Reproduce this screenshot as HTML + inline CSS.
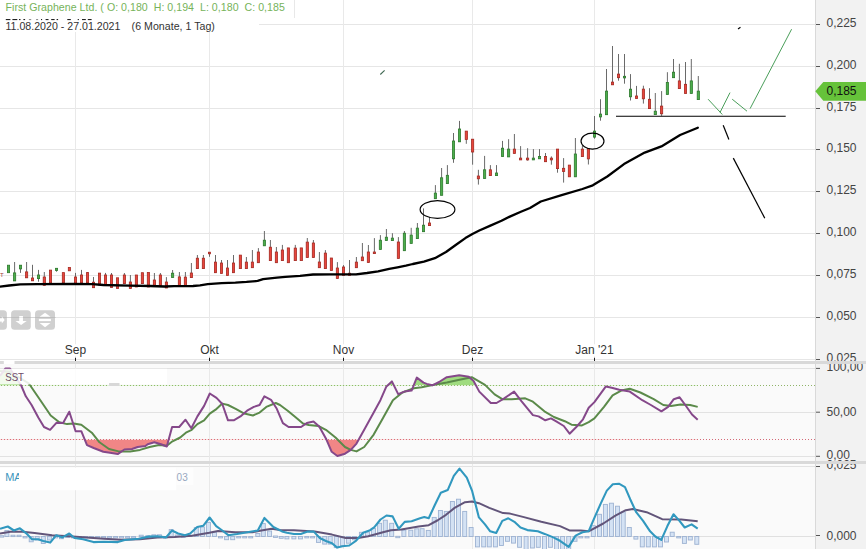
<!DOCTYPE html>
<html><head><meta charset="utf-8"><style>
html,body{margin:0;padding:0;background:#fff;width:866px;height:549px;overflow:hidden}
svg{position:absolute;left:0;top:0;display:block}
text{font-family:"Liberation Sans",sans-serif}
</style></head><body>
<svg width="866" height="549" viewBox="0 0 866 549">

<rect x="0" y="0" width="866" height="549" fill="#ffffff"/>
<rect x="0" y="364" width="816" height="97" fill="#fafafa"/>
<rect x="0" y="464.5" width="816" height="85" fill="#fafafa"/>
<rect x="816" y="0" width="50" height="549" fill="#f2f2f2"/>
<line x1="815.5" y1="0" x2="815.5" y2="549" stroke="#d9d9d9" stroke-width="1"/>
<line x1="0" y1="24.5" x2="815" y2="24.5" stroke="#e6e6e6" stroke-width="1"/>
<line x1="0" y1="66.5" x2="815" y2="66.5" stroke="#e6e6e6" stroke-width="1"/>
<line x1="0" y1="108.5" x2="815" y2="108.5" stroke="#e6e6e6" stroke-width="1"/>
<line x1="0" y1="149.5" x2="815" y2="149.5" stroke="#e6e6e6" stroke-width="1"/>
<line x1="0" y1="191.5" x2="815" y2="191.5" stroke="#e6e6e6" stroke-width="1"/>
<line x1="0" y1="233.5" x2="815" y2="233.5" stroke="#e6e6e6" stroke-width="1"/>
<line x1="0" y1="275.5" x2="815" y2="275.5" stroke="#e6e6e6" stroke-width="1"/>
<line x1="0" y1="317.5" x2="815" y2="317.5" stroke="#e6e6e6" stroke-width="1"/>
<line x1="0" y1="359.5" x2="815" y2="359.5" stroke="#e6e6e6" stroke-width="1"/>
<line x1="0" y1="368.5" x2="815" y2="368.5" stroke="#e2e2e2" stroke-width="1"/>
<line x1="0" y1="412.5" x2="815" y2="412.5" stroke="#e2e2e2" stroke-width="1"/>
<line x1="0" y1="456.5" x2="815" y2="456.5" stroke="#e2e2e2" stroke-width="1"/>
<line x1="0" y1="466.5" x2="815" y2="466.5" stroke="#e2e2e2" stroke-width="1"/>
<line x1="75.5" y1="0" x2="75.5" y2="549" stroke="#e9e9e9" stroke-width="1"/>
<line x1="209.5" y1="0" x2="209.5" y2="549" stroke="#e9e9e9" stroke-width="1"/>
<line x1="343.5" y1="0" x2="343.5" y2="549" stroke="#e9e9e9" stroke-width="1"/>
<line x1="472.5" y1="0" x2="472.5" y2="549" stroke="#e9e9e9" stroke-width="1"/>
<line x1="594.5" y1="0" x2="594.5" y2="549" stroke="#e9e9e9" stroke-width="1"/>
<line x1="0" y1="385.5" x2="815" y2="385.5" stroke="#8fb468" stroke-width="1" stroke-dasharray="1,2" stroke-dashoffset="2"/>
<line x1="0" y1="439.5" x2="815" y2="439.5" stroke="#d46a78" stroke-width="1" stroke-dasharray="1,2" stroke-dashoffset="2"/>
<line x1="0" y1="536.5" x2="815" y2="536.5" stroke="#e0e0e0" stroke-width="1"/>
<rect x="7.4" y="265.2" width="2.2" height="7.5" fill="#4cae4c" stroke="#2e7a2e" stroke-width="0.8"/>
<line x1="14.6" y1="262.0" x2="14.6" y2="280.9" stroke="#6a6a6a" stroke-width="1"/>
<rect x="13.5" y="272.9" width="2.2" height="8.0" fill="#4cae4c" stroke="#2e7a2e" stroke-width="0.8"/>
<line x1="20.5" y1="265.2" x2="20.5" y2="272.9" stroke="#6a6a6a" stroke-width="1"/>
<rect x="19.4" y="265.2" width="2.2" height="3.7" fill="#4cae4c" stroke="#2e7a2e" stroke-width="0.8"/>
<line x1="26.6" y1="262.0" x2="26.6" y2="277.8" stroke="#6a6a6a" stroke-width="1"/>
<rect x="25.5" y="271.9" width="2.2" height="5.9" fill="#e8453c" stroke="#a52a22" stroke-width="0.8"/>
<line x1="32.5" y1="264.8" x2="32.5" y2="280.8" stroke="#6a6a6a" stroke-width="1"/>
<rect x="31.4" y="278.0" width="2.2" height="2.8" fill="#e8453c" stroke="#a52a22" stroke-width="0.8"/>
<line x1="38.5" y1="269.9" x2="38.5" y2="281.7" stroke="#6a6a6a" stroke-width="1"/>
<rect x="37.4" y="275.0" width="2.2" height="3.6" fill="#4cae4c" stroke="#2e7a2e" stroke-width="0.8"/>
<line x1="44.3" y1="272.0" x2="44.3" y2="285.3" stroke="#6a6a6a" stroke-width="1"/>
<rect x="43.2" y="277.0" width="2.2" height="8.3" fill="#e8453c" stroke="#a52a22" stroke-width="0.8"/>
<rect x="49.4" y="270.1" width="2.2" height="12.7" fill="#e8453c" stroke="#a52a22" stroke-width="0.8"/>
<line x1="56.5" y1="268.3" x2="56.5" y2="271.7" stroke="#6a6a6a" stroke-width="1"/>
<rect x="55.4" y="268.3" width="2.2" height="2.2" fill="#4cae4c" stroke="#2e7a2e" stroke-width="0.8"/>
<rect x="62.3" y="272.6" width="2.2" height="10.2" fill="#e8453c" stroke="#a52a22" stroke-width="0.8"/>
<rect x="68.3" y="267.4" width="2.2" height="3.4" fill="#e8453c" stroke="#a52a22" stroke-width="0.8"/>
<line x1="75.5" y1="272.9" x2="75.5" y2="283.3" stroke="#6a6a6a" stroke-width="1"/>
<rect x="74.4" y="277.0" width="2.2" height="6.3" fill="#e8453c" stroke="#a52a22" stroke-width="0.8"/>
<line x1="81.5" y1="269.9" x2="81.5" y2="282.8" stroke="#6a6a6a" stroke-width="1"/>
<rect x="80.4" y="275.0" width="2.2" height="7.8" fill="#e8453c" stroke="#a52a22" stroke-width="0.8"/>
<line x1="87.5" y1="272.0" x2="87.5" y2="282.8" stroke="#6a6a6a" stroke-width="1"/>
<rect x="86.4" y="272.6" width="2.2" height="10.2" fill="#e8453c" stroke="#a52a22" stroke-width="0.8"/>
<line x1="93.5" y1="277.0" x2="93.5" y2="287.7" stroke="#6a6a6a" stroke-width="1"/>
<rect x="92.4" y="282.2" width="2.2" height="5.5" fill="#e8453c" stroke="#a52a22" stroke-width="0.8"/>
<rect x="98.4" y="273.1" width="2.2" height="11.9" fill="#e8453c" stroke="#a52a22" stroke-width="0.8"/>
<line x1="105.5" y1="272.9" x2="105.5" y2="284.6" stroke="#6a6a6a" stroke-width="1"/>
<rect x="104.4" y="275.0" width="2.2" height="9.6" fill="#e8453c" stroke="#a52a22" stroke-width="0.8"/>
<line x1="111.5" y1="273.0" x2="111.5" y2="287.5" stroke="#6a6a6a" stroke-width="1"/>
<rect x="110.4" y="275.0" width="2.2" height="12.5" fill="#e8453c" stroke="#a52a22" stroke-width="0.8"/>
<rect x="116.4" y="277.8" width="2.2" height="10.6" fill="#e8453c" stroke="#a52a22" stroke-width="0.8"/>
<line x1="124.4" y1="273.0" x2="124.4" y2="283.6" stroke="#6a6a6a" stroke-width="1"/>
<rect x="123.3" y="275.0" width="2.2" height="8.6" fill="#e8453c" stroke="#a52a22" stroke-width="0.8"/>
<line x1="130.4" y1="275.0" x2="130.4" y2="288.4" stroke="#6a6a6a" stroke-width="1"/>
<rect x="129.3" y="282.0" width="2.2" height="6.4" fill="#e8453c" stroke="#a52a22" stroke-width="0.8"/>
<rect x="135.3" y="275.0" width="2.2" height="12.0" fill="#e8453c" stroke="#a52a22" stroke-width="0.8"/>
<rect x="141.3" y="272.7" width="2.2" height="10.9" fill="#e8453c" stroke="#a52a22" stroke-width="0.8"/>
<rect x="147.3" y="272.5" width="2.2" height="14.5" fill="#e8453c" stroke="#a52a22" stroke-width="0.8"/>
<line x1="154.4" y1="273.0" x2="154.4" y2="285.6" stroke="#6a6a6a" stroke-width="1"/>
<rect x="153.3" y="280.0" width="2.2" height="5.6" fill="#e8453c" stroke="#a52a22" stroke-width="0.8"/>
<line x1="160.4" y1="273.0" x2="160.4" y2="285.6" stroke="#6a6a6a" stroke-width="1"/>
<rect x="159.3" y="275.0" width="2.2" height="10.6" fill="#e8453c" stroke="#a52a22" stroke-width="0.8"/>
<line x1="166.4" y1="277.1" x2="166.4" y2="288.0" stroke="#6a6a6a" stroke-width="1"/>
<rect x="165.3" y="282.0" width="2.2" height="6.0" fill="#e8453c" stroke="#a52a22" stroke-width="0.8"/>
<line x1="172.6" y1="270.0" x2="172.6" y2="277.5" stroke="#6a6a6a" stroke-width="1"/>
<rect x="171.5" y="273.2" width="2.2" height="4.3" fill="#4cae4c" stroke="#2e7a2e" stroke-width="0.8"/>
<line x1="179.4" y1="272.0" x2="179.4" y2="285.6" stroke="#6a6a6a" stroke-width="1"/>
<rect x="178.3" y="276.9" width="2.2" height="8.7" fill="#e8453c" stroke="#a52a22" stroke-width="0.8"/>
<line x1="185.4" y1="272.0" x2="185.4" y2="286.0" stroke="#6a6a6a" stroke-width="1"/>
<rect x="184.3" y="277.1" width="2.2" height="8.9" fill="#e8453c" stroke="#a52a22" stroke-width="0.8"/>
<line x1="191.4" y1="263.0" x2="191.4" y2="277.6" stroke="#6a6a6a" stroke-width="1"/>
<rect x="190.3" y="273.0" width="2.2" height="4.6" fill="#e8453c" stroke="#a52a22" stroke-width="0.8"/>
<line x1="197.4" y1="255.0" x2="197.4" y2="268.6" stroke="#6a6a6a" stroke-width="1"/>
<rect x="196.3" y="258.2" width="2.2" height="10.4" fill="#e8453c" stroke="#a52a22" stroke-width="0.8"/>
<line x1="203.4" y1="255.0" x2="203.4" y2="268.6" stroke="#6a6a6a" stroke-width="1"/>
<rect x="202.3" y="258.2" width="2.2" height="10.4" fill="#e8453c" stroke="#a52a22" stroke-width="0.8"/>
<line x1="209.5" y1="252.2" x2="209.5" y2="256.8" stroke="#6a6a6a" stroke-width="1"/>
<rect x="208.4" y="252.2" width="2.2" height="1.6" fill="#e8453c" stroke="#a52a22" stroke-width="0.8"/>
<line x1="215.5" y1="255.0" x2="215.5" y2="272.7" stroke="#6a6a6a" stroke-width="1"/>
<rect x="214.4" y="262.1" width="2.2" height="10.6" fill="#e8453c" stroke="#a52a22" stroke-width="0.8"/>
<line x1="221.5" y1="260.0" x2="221.5" y2="273.4" stroke="#6a6a6a" stroke-width="1"/>
<rect x="220.4" y="263.0" width="2.2" height="10.4" fill="#e8453c" stroke="#a52a22" stroke-width="0.8"/>
<line x1="227.5" y1="260.0" x2="227.5" y2="275.4" stroke="#6a6a6a" stroke-width="1"/>
<rect x="226.4" y="268.0" width="2.2" height="7.4" fill="#e8453c" stroke="#a52a22" stroke-width="0.8"/>
<line x1="233.5" y1="255.0" x2="233.5" y2="272.7" stroke="#6a6a6a" stroke-width="1"/>
<rect x="232.4" y="263.0" width="2.2" height="9.7" fill="#e8453c" stroke="#a52a22" stroke-width="0.8"/>
<rect x="239.3" y="255.1" width="2.2" height="13.5" fill="#e8453c" stroke="#a52a22" stroke-width="0.8"/>
<line x1="246.4" y1="257.0" x2="246.4" y2="268.6" stroke="#6a6a6a" stroke-width="1"/>
<rect x="245.3" y="262.1" width="2.2" height="6.5" fill="#e8453c" stroke="#a52a22" stroke-width="0.8"/>
<line x1="252.4" y1="250.0" x2="252.4" y2="267.7" stroke="#6a6a6a" stroke-width="1"/>
<rect x="251.3" y="262.1" width="2.2" height="5.6" fill="#e8453c" stroke="#a52a22" stroke-width="0.8"/>
<line x1="258.4" y1="248.1" x2="258.4" y2="262.7" stroke="#6a6a6a" stroke-width="1"/>
<rect x="257.3" y="252.0" width="2.2" height="10.7" fill="#e8453c" stroke="#a52a22" stroke-width="0.8"/>
<line x1="264.4" y1="231.0" x2="264.4" y2="245.8" stroke="#6a6a6a" stroke-width="1"/>
<rect x="263.3" y="240.2" width="2.2" height="5.6" fill="#4cae4c" stroke="#2e7a2e" stroke-width="0.8"/>
<line x1="270.4" y1="240.0" x2="270.4" y2="260.6" stroke="#6a6a6a" stroke-width="1"/>
<rect x="269.3" y="247.2" width="2.2" height="13.4" fill="#e8453c" stroke="#a52a22" stroke-width="0.8"/>
<line x1="276.4" y1="247.0" x2="276.4" y2="262.7" stroke="#6a6a6a" stroke-width="1"/>
<rect x="275.3" y="252.0" width="2.2" height="10.7" fill="#e8453c" stroke="#a52a22" stroke-width="0.8"/>
<line x1="282.4" y1="244.9" x2="282.4" y2="260.6" stroke="#6a6a6a" stroke-width="1"/>
<rect x="281.3" y="250.0" width="2.2" height="10.6" fill="#e8453c" stroke="#a52a22" stroke-width="0.8"/>
<rect x="287.3" y="247.9" width="2.2" height="14.8" fill="#e8453c" stroke="#a52a22" stroke-width="0.8"/>
<line x1="295.3" y1="244.9" x2="295.3" y2="260.6" stroke="#6a6a6a" stroke-width="1"/>
<rect x="294.2" y="248.1" width="2.2" height="12.5" fill="#e8453c" stroke="#a52a22" stroke-width="0.8"/>
<rect x="300.2" y="247.9" width="2.2" height="12.7" fill="#e8453c" stroke="#a52a22" stroke-width="0.8"/>
<line x1="307.3" y1="238.0" x2="307.3" y2="257.5" stroke="#6a6a6a" stroke-width="1"/>
<rect x="306.2" y="242.1" width="2.2" height="15.4" fill="#e8453c" stroke="#a52a22" stroke-width="0.8"/>
<line x1="313.4" y1="240.0" x2="313.4" y2="257.5" stroke="#6a6a6a" stroke-width="1"/>
<rect x="312.3" y="243.0" width="2.2" height="14.5" fill="#e8453c" stroke="#a52a22" stroke-width="0.8"/>
<line x1="319.4" y1="252.0" x2="319.4" y2="267.7" stroke="#6a6a6a" stroke-width="1"/>
<rect x="318.3" y="262.0" width="2.2" height="5.7" fill="#e8453c" stroke="#a52a22" stroke-width="0.8"/>
<line x1="325.4" y1="250.1" x2="325.4" y2="268.6" stroke="#6a6a6a" stroke-width="1"/>
<rect x="324.3" y="253.1" width="2.2" height="15.5" fill="#e8453c" stroke="#a52a22" stroke-width="0.8"/>
<rect x="330.3" y="258.0" width="2.2" height="12.5" fill="#e8453c" stroke="#a52a22" stroke-width="0.8"/>
<line x1="337.4" y1="262.1" x2="337.4" y2="278.5" stroke="#6a6a6a" stroke-width="1"/>
<rect x="336.3" y="268.0" width="2.2" height="10.5" fill="#e8453c" stroke="#a52a22" stroke-width="0.8"/>
<line x1="343.5" y1="265.1" x2="343.5" y2="275.3" stroke="#6a6a6a" stroke-width="1"/>
<rect x="342.4" y="267.0" width="2.2" height="8.3" fill="#e8453c" stroke="#a52a22" stroke-width="0.8"/>
<line x1="349.5" y1="260.0" x2="349.5" y2="275.3" stroke="#6a6a6a" stroke-width="1"/>
<rect x="348.4" y="273.2" width="2.2" height="2.1" fill="#e8453c" stroke="#a52a22" stroke-width="0.8"/>
<line x1="356.4" y1="257.0" x2="356.4" y2="267.7" stroke="#6a6a6a" stroke-width="1"/>
<rect x="355.3" y="262.1" width="2.2" height="5.6" fill="#e8453c" stroke="#a52a22" stroke-width="0.8"/>
<line x1="362.4" y1="243.0" x2="362.4" y2="260.7" stroke="#6a6a6a" stroke-width="1"/>
<rect x="361.3" y="257.0" width="2.2" height="3.7" fill="#e8453c" stroke="#a52a22" stroke-width="0.8"/>
<line x1="368.4" y1="245.0" x2="368.4" y2="262.5" stroke="#6a6a6a" stroke-width="1"/>
<rect x="367.3" y="252.0" width="2.2" height="10.5" fill="#e8453c" stroke="#a52a22" stroke-width="0.8"/>
<line x1="374.4" y1="238.1" x2="374.4" y2="253.6" stroke="#6a6a6a" stroke-width="1"/>
<rect x="373.3" y="252.0" width="2.2" height="1.6" fill="#e8453c" stroke="#a52a22" stroke-width="0.8"/>
<line x1="380.4" y1="235.1" x2="380.4" y2="249.4" stroke="#6a6a6a" stroke-width="1"/>
<rect x="379.3" y="240.2" width="2.2" height="9.2" fill="#4cae4c" stroke="#2e7a2e" stroke-width="0.8"/>
<line x1="386.4" y1="229.0" x2="386.4" y2="240.6" stroke="#6a6a6a" stroke-width="1"/>
<rect x="385.3" y="237.2" width="2.2" height="3.4" fill="#4cae4c" stroke="#2e7a2e" stroke-width="0.8"/>
<line x1="392.4" y1="233.2" x2="392.4" y2="240.6" stroke="#6a6a6a" stroke-width="1"/>
<rect x="391.3" y="238.1" width="2.2" height="2.5" fill="#4cae4c" stroke="#2e7a2e" stroke-width="0.8"/>
<line x1="398.4" y1="237.1" x2="398.4" y2="258.4" stroke="#6a6a6a" stroke-width="1"/>
<rect x="397.3" y="242.0" width="2.2" height="16.4" fill="#e8453c" stroke="#a52a22" stroke-width="0.8"/>
<line x1="404.4" y1="231.0" x2="404.4" y2="250.7" stroke="#6a6a6a" stroke-width="1"/>
<rect x="403.3" y="233.2" width="2.2" height="17.5" fill="#4cae4c" stroke="#2e7a2e" stroke-width="0.8"/>
<line x1="411.2" y1="227.8" x2="411.2" y2="243.4" stroke="#6a6a6a" stroke-width="1"/>
<rect x="410.1" y="235.1" width="2.2" height="8.3" fill="#4cae4c" stroke="#2e7a2e" stroke-width="0.8"/>
<line x1="417.4" y1="223.0" x2="417.4" y2="238.6" stroke="#6a6a6a" stroke-width="1"/>
<rect x="416.3" y="228.1" width="2.2" height="10.5" fill="#4cae4c" stroke="#2e7a2e" stroke-width="0.8"/>
<line x1="423.5" y1="208.4" x2="423.5" y2="231.7" stroke="#6a6a6a" stroke-width="1"/>
<rect x="422.4" y="225.2" width="2.2" height="6.5" fill="#4cae4c" stroke="#2e7a2e" stroke-width="0.8"/>
<line x1="429.5" y1="217.2" x2="429.5" y2="225.6" stroke="#6a6a6a" stroke-width="1"/>
<rect x="428.4" y="223.0" width="2.2" height="2.6" fill="#e8453c" stroke="#a52a22" stroke-width="0.8"/>
<line x1="435.4" y1="185.1" x2="435.4" y2="198.7" stroke="#6a6a6a" stroke-width="1"/>
<rect x="434.3" y="193.1" width="2.2" height="5.6" fill="#4cae4c" stroke="#2e7a2e" stroke-width="0.8"/>
<line x1="441.6" y1="168.0" x2="441.6" y2="195.3" stroke="#6a6a6a" stroke-width="1"/>
<rect x="440.5" y="177.8" width="2.2" height="17.5" fill="#4cae4c" stroke="#2e7a2e" stroke-width="0.8"/>
<line x1="447.4" y1="165.1" x2="447.4" y2="183.6" stroke="#6a6a6a" stroke-width="1"/>
<rect x="446.3" y="175.3" width="2.2" height="8.3" fill="#4cae4c" stroke="#2e7a2e" stroke-width="0.8"/>
<line x1="453.5" y1="133.0" x2="453.5" y2="162.8" stroke="#6a6a6a" stroke-width="1"/>
<rect x="452.4" y="141.0" width="2.2" height="17.8" fill="#4cae4c" stroke="#2e7a2e" stroke-width="0.8"/>
<line x1="459.5" y1="120.9" x2="459.5" y2="141.8" stroke="#6a6a6a" stroke-width="1"/>
<rect x="458.4" y="129.0" width="2.2" height="12.8" fill="#4cae4c" stroke="#2e7a2e" stroke-width="0.8"/>
<line x1="466.3" y1="131.1" x2="466.3" y2="143.8" stroke="#6a6a6a" stroke-width="1"/>
<rect x="465.2" y="131.1" width="2.2" height="8.3" fill="#e8453c" stroke="#a52a22" stroke-width="0.8"/>
<line x1="472.6" y1="139.2" x2="472.6" y2="164.7" stroke="#6a6a6a" stroke-width="1"/>
<rect x="471.5" y="139.2" width="2.2" height="12.8" fill="#e8453c" stroke="#a52a22" stroke-width="0.8"/>
<line x1="478.4" y1="169.8" x2="478.4" y2="184.6" stroke="#6a6a6a" stroke-width="1"/>
<rect x="477.3" y="176.0" width="2.2" height="2.8" fill="#e8453c" stroke="#a52a22" stroke-width="0.8"/>
<line x1="484.6" y1="155.9" x2="484.6" y2="178.5" stroke="#6a6a6a" stroke-width="1"/>
<rect x="483.5" y="169.8" width="2.2" height="8.7" fill="#4cae4c" stroke="#2e7a2e" stroke-width="0.8"/>
<line x1="490.4" y1="165.1" x2="490.4" y2="175.6" stroke="#6a6a6a" stroke-width="1"/>
<rect x="489.3" y="169.8" width="2.2" height="5.8" fill="#e8453c" stroke="#a52a22" stroke-width="0.8"/>
<line x1="496.5" y1="165.1" x2="496.5" y2="175.6" stroke="#6a6a6a" stroke-width="1"/>
<rect x="495.4" y="173.0" width="2.2" height="2.6" fill="#4cae4c" stroke="#2e7a2e" stroke-width="0.8"/>
<line x1="502.5" y1="140.9" x2="502.5" y2="156.6" stroke="#6a6a6a" stroke-width="1"/>
<rect x="501.4" y="148.2" width="2.2" height="8.4" fill="#4cae4c" stroke="#2e7a2e" stroke-width="0.8"/>
<line x1="508.6" y1="139.2" x2="508.6" y2="156.9" stroke="#6a6a6a" stroke-width="1"/>
<rect x="507.5" y="149.1" width="2.2" height="7.8" fill="#4cae4c" stroke="#2e7a2e" stroke-width="0.8"/>
<line x1="514.4" y1="134.0" x2="514.4" y2="153.4" stroke="#6a6a6a" stroke-width="1"/>
<rect x="513.3" y="149.1" width="2.2" height="4.3" fill="#e8453c" stroke="#a52a22" stroke-width="0.8"/>
<line x1="520.6" y1="146.1" x2="520.6" y2="159.9" stroke="#6a6a6a" stroke-width="1"/>
<rect x="519.5" y="158.1" width="2.2" height="1.8" fill="#e8453c" stroke="#a52a22" stroke-width="0.8"/>
<line x1="527.6" y1="148.2" x2="527.6" y2="160.7" stroke="#6a6a6a" stroke-width="1"/>
<rect x="526.5" y="158.1" width="2.2" height="1.8" fill="#e8453c" stroke="#a52a22" stroke-width="0.8"/>
<line x1="533.4" y1="149.1" x2="533.4" y2="159.9" stroke="#6a6a6a" stroke-width="1"/>
<rect x="532.3" y="158.1" width="2.2" height="1.8" fill="#4cae4c" stroke="#2e7a2e" stroke-width="0.8"/>
<line x1="539.5" y1="149.1" x2="539.5" y2="158.8" stroke="#6a6a6a" stroke-width="1"/>
<rect x="538.4" y="156.4" width="2.2" height="2.4" fill="#4cae4c" stroke="#2e7a2e" stroke-width="0.8"/>
<line x1="545.5" y1="153.0" x2="545.5" y2="161.7" stroke="#6a6a6a" stroke-width="1"/>
<rect x="544.4" y="156.4" width="2.2" height="5.3" fill="#e8453c" stroke="#a52a22" stroke-width="0.8"/>
<line x1="551.4" y1="156.4" x2="551.4" y2="164.7" stroke="#6a6a6a" stroke-width="1"/>
<rect x="550.3" y="158.1" width="2.2" height="1.8" fill="#e8453c" stroke="#a52a22" stroke-width="0.8"/>
<line x1="557.5" y1="149.1" x2="557.5" y2="172.7" stroke="#6a6a6a" stroke-width="1"/>
<rect x="556.4" y="149.1" width="2.2" height="19.5" fill="#e8453c" stroke="#a52a22" stroke-width="0.8"/>
<line x1="563.6" y1="158.1" x2="563.6" y2="182.6" stroke="#6a6a6a" stroke-width="1"/>
<rect x="562.5" y="168.3" width="2.2" height="3.2" fill="#e8453c" stroke="#a52a22" stroke-width="0.8"/>
<rect x="568.3" y="165.1" width="2.2" height="11.7" fill="#e8453c" stroke="#a52a22" stroke-width="0.8"/>
<line x1="575.4" y1="138.0" x2="575.4" y2="176.8" stroke="#6a6a6a" stroke-width="1"/>
<rect x="574.3" y="154.0" width="2.2" height="22.8" fill="#4cae4c" stroke="#2e7a2e" stroke-width="0.8"/>
<line x1="582.4" y1="145.3" x2="582.4" y2="156.6" stroke="#6a6a6a" stroke-width="1"/>
<rect x="581.3" y="149.1" width="2.2" height="7.5" fill="#e8453c" stroke="#a52a22" stroke-width="0.8"/>
<line x1="588.4" y1="148.6" x2="588.4" y2="164.5" stroke="#6a6a6a" stroke-width="1"/>
<rect x="587.3" y="148.6" width="2.2" height="10.3" fill="#e8453c" stroke="#a52a22" stroke-width="0.8"/>
<line x1="594.5" y1="116.0" x2="594.5" y2="138.7" stroke="#6a6a6a" stroke-width="1"/>
<rect x="593.4" y="131.1" width="2.2" height="6.0" fill="#4cae4c" stroke="#2e7a2e" stroke-width="0.8"/>
<line x1="600.5" y1="99.2" x2="600.5" y2="120.7" stroke="#6a6a6a" stroke-width="1"/>
<rect x="599.4" y="114.1" width="2.2" height="2.8" fill="#4cae4c" stroke="#2e7a2e" stroke-width="0.8"/>
<line x1="606.5" y1="69.0" x2="606.5" y2="114.7" stroke="#6a6a6a" stroke-width="1"/>
<rect x="605.4" y="91.1" width="2.2" height="23.6" fill="#4cae4c" stroke="#2e7a2e" stroke-width="0.8"/>
<line x1="612.5" y1="46.0" x2="612.5" y2="84.8" stroke="#6a6a6a" stroke-width="1"/>
<rect x="611.4" y="82.1" width="2.2" height="2.7" fill="#e8453c" stroke="#a52a22" stroke-width="0.8"/>
<line x1="618.5" y1="54.0" x2="618.5" y2="80.7" stroke="#6a6a6a" stroke-width="1"/>
<rect x="617.4" y="74.1" width="2.2" height="3.6" fill="#e8453c" stroke="#a52a22" stroke-width="0.8"/>
<line x1="624.5" y1="54.0" x2="624.5" y2="83.7" stroke="#6a6a6a" stroke-width="1"/>
<rect x="623.4" y="76.3" width="2.2" height="1.6" fill="#4cae4c" stroke="#2e7a2e" stroke-width="0.8"/>
<line x1="630.5" y1="74.1" x2="630.5" y2="100.5" stroke="#6a6a6a" stroke-width="1"/>
<rect x="629.4" y="89.2" width="2.2" height="7.6" fill="#4cae4c" stroke="#2e7a2e" stroke-width="0.8"/>
<line x1="636.5" y1="85.9" x2="636.5" y2="98.5" stroke="#6a6a6a" stroke-width="1"/>
<rect x="635.4" y="96.0" width="2.2" height="2.5" fill="#e8453c" stroke="#a52a22" stroke-width="0.8"/>
<line x1="643.4" y1="85.7" x2="643.4" y2="103.6" stroke="#6a6a6a" stroke-width="1"/>
<rect x="642.3" y="89.1" width="2.2" height="9.7" fill="#e8453c" stroke="#a52a22" stroke-width="0.8"/>
<line x1="649.5" y1="88.2" x2="649.5" y2="108.6" stroke="#6a6a6a" stroke-width="1"/>
<rect x="648.4" y="99.3" width="2.2" height="9.3" fill="#e8453c" stroke="#a52a22" stroke-width="0.8"/>
<line x1="655.3" y1="93.0" x2="655.3" y2="114.6" stroke="#6a6a6a" stroke-width="1"/>
<rect x="654.2" y="111.2" width="2.2" height="3.4" fill="#4cae4c" stroke="#2e7a2e" stroke-width="0.8"/>
<line x1="661.6" y1="91.1" x2="661.6" y2="115.9" stroke="#6a6a6a" stroke-width="1"/>
<rect x="660.5" y="106.1" width="2.2" height="7.7" fill="#e8453c" stroke="#a52a22" stroke-width="0.8"/>
<line x1="667.4" y1="72.2" x2="667.4" y2="94.5" stroke="#6a6a6a" stroke-width="1"/>
<rect x="666.3" y="82.4" width="2.2" height="12.1" fill="#4cae4c" stroke="#2e7a2e" stroke-width="0.8"/>
<line x1="673.5" y1="59.0" x2="673.5" y2="77.7" stroke="#6a6a6a" stroke-width="1"/>
<rect x="672.4" y="72.2" width="2.2" height="5.5" fill="#4cae4c" stroke="#2e7a2e" stroke-width="0.8"/>
<line x1="679.4" y1="63.8" x2="679.4" y2="88.6" stroke="#6a6a6a" stroke-width="1"/>
<rect x="678.3" y="80.9" width="2.2" height="7.7" fill="#e8453c" stroke="#a52a22" stroke-width="0.8"/>
<line x1="685.5" y1="62.0" x2="685.5" y2="93.4" stroke="#6a6a6a" stroke-width="1"/>
<rect x="684.4" y="84.3" width="2.2" height="9.1" fill="#e8453c" stroke="#a52a22" stroke-width="0.8"/>
<line x1="691.3" y1="59.0" x2="691.3" y2="93.4" stroke="#6a6a6a" stroke-width="1"/>
<rect x="690.2" y="80.9" width="2.2" height="12.5" fill="#4cae4c" stroke="#2e7a2e" stroke-width="0.8"/>
<line x1="698.3" y1="76.0" x2="698.3" y2="99.6" stroke="#6a6a6a" stroke-width="1"/>
<rect x="697.2" y="91.1" width="2.2" height="8.5" fill="#4cae4c" stroke="#2e7a2e" stroke-width="0.8"/>
<polyline points="0.0,286.6 9.2,285.5 20.3,284.4 37.0,284.1 74.0,284.0 92.4,284.1 103.5,285.0 129.4,285.7 150.0,286.0 164.5,286.5 174.2,286.1 193.0,286.0 200.0,285.3 207.7,284.2 221.6,283.1 235.4,282.6 246.5,281.9 257.6,280.9 263.1,279.2 277.0,277.7 285.3,276.8 300.0,275.9 313.0,274.5 329.6,274.4 356.0,274.4 367.0,273.0 378.1,271.3 389.2,268.8 397.5,267.3 405.9,265.6 412.8,264.0 423.9,261.7 434.9,258.2 446.0,252.0 455.7,245.0 465.4,238.1 472.4,234.0 479.3,230.5 490.4,225.6 501.5,220.8 509.8,216.6 520.9,211.8 530.0,208.0 540.8,201.5 561.6,195.2 582.4,189.0 592.8,185.3 607.3,176.5 624.0,164.1 644.7,152.6 661.4,146.4 680.1,135.0 697.8,127.7" fill="none" stroke="#000" stroke-width="2.3" stroke-linejoin="round" stroke-linecap="round"/>
<ellipse cx="437.5" cy="209.5" rx="17.4" ry="8.9" fill="none" stroke="#000" stroke-width="1.15"/>
<ellipse cx="592.5" cy="141.1" rx="11.5" ry="8" fill="none" stroke="#000" stroke-width="1.15"/>
<line x1="616" y1="116.3" x2="785.7" y2="116.3" stroke="#000" stroke-width="1.1"/>
<line x1="723.2" y1="125.3" x2="728.9" y2="139.5" stroke="#000" stroke-width="1.2"/>
<line x1="733.3" y1="158.1" x2="764.8" y2="218.2" stroke="#000" stroke-width="1.2"/>
<line x1="738" y1="29" x2="740.5" y2="27.3" stroke="#000" stroke-width="1.1"/>
<line x1="380.3" y1="74.5" x2="384.6" y2="70.4" stroke="#3d6650" stroke-width="1.1"/>
<line x1="708.1" y1="99.2" x2="722.3" y2="114.5" stroke="#4a9e5a" stroke-width="1"/>
<line x1="720.1" y1="112.3" x2="730" y2="92.6" stroke="#4a9e5a" stroke-width="1"/>
<line x1="732.2" y1="99.2" x2="747" y2="111.2" stroke="#4a9e5a" stroke-width="1"/>
<line x1="750.1" y1="108.6" x2="791.6" y2="29.2" stroke="#4a9e5a" stroke-width="1"/>
<rect x="0" y="0" width="294" height="18" fill="#fff"/>
<line x1="294.5" y1="0" x2="294.5" y2="18" stroke="#e8e8e8" stroke-width="1"/>
<rect x="0" y="18" width="259" height="14" fill="#fff"/>
<text x="5.5" y="10.5" font-size="10.6" fill="#76b35a" textLength="279.3" lengthAdjust="spacing">First Graphene Ltd. ( O: 0,180&#160; H: 0,194&#160; L: 0,180&#160; C: 0,185</text>
<g fill="#222"><rect x="5.8" y="19" width="4.6" height="1.1" fill-opacity="1"/><rect x="12.4" y="19" width="4.9" height="1.1" fill-opacity="1"/><rect x="19" y="19" width="1.5" height="1.1" fill-opacity="1"/><rect x="23.4" y="19" width="1.7" height="1.1" fill-opacity="1"/><rect x="28.9" y="19" width="2.3" height="1.1" fill-opacity="0.5"/><rect x="36.1" y="19" width="2.0" height="1.1" fill-opacity="0.5"/><rect x="41" y="19" width="1.1" height="1.1" fill-opacity="1"/><rect x="45.6" y="19" width="2.9" height="1.1" fill-opacity="1"/><rect x="51.2" y="19" width="3.4" height="1.1" fill-opacity="1"/><rect x="56.6" y="19" width="1.5" height="1.1" fill-opacity="1"/><rect x="67.3" y="19" width="3.5" height="1.1" fill-opacity="1"/><rect x="77.7" y="19" width="1.2" height="1.1" fill-opacity="1"/><rect x="82" y="19" width="3.8" height="1.1" fill-opacity="1"/><rect x="87.8" y="19" width="3.8" height="1.1" fill-opacity="1"/></g>
<text x="5.5" y="29.9" font-size="10.6" fill="#333" textLength="114.9" lengthAdjust="spacing">11.08.2020 - 27.01.2021</text>
<text x="131.6" y="29.9" font-size="10.6" fill="#333" textLength="83.3" lengthAdjust="spacing">(6 Monate, 1 Tag)</text>
<g opacity="0.92"><g fill="#cdcdcd"><rect x="-14" y="310.2" width="20.9" height="19.6" rx="3.5"/><rect x="11.1" y="310.2" width="19.7" height="19.6" rx="3.5"/><rect x="35" y="310.2" width="20" height="19.6" rx="3.5"/></g><g fill="#fff"><rect x="-2" y="318.3" width="4.2" height="3.3"/><polygon points="1.8,316.2 4.6,319.9 1.8,323.5"/><rect x="19.2" y="316" width="3.75" height="5.2"/><polygon points="15.5,321.1 26.7,321.1 21.1,324.9"/><polygon points="39.6,316.7 50.5,316.7 45.05,312.7"/><rect x="38.9" y="318.9" width="12" height="2.2"/><polygon points="39.6,323.1 50.5,323.1 45.05,327.3"/></g></g>
<line x1="0" y1="317.5" x2="56" y2="317.5" stroke="#000" stroke-opacity="0.07" stroke-width="1"/>
<rect x="63.8" y="344.3" width="23.4" height="12" fill="#fff"/>
<text x="75.5" y="353.7" font-size="12" fill="#333" text-anchor="middle">Sep</text>
<line x1="75.5" y1="357.8" x2="75.5" y2="361" stroke="#222" stroke-width="1"/>
<rect x="199.6" y="344.3" width="19.8" height="12" fill="#fff"/>
<text x="209.5" y="353.7" font-size="12" fill="#333" text-anchor="middle">Okt</text>
<line x1="209.5" y1="357.8" x2="209.5" y2="361" stroke="#222" stroke-width="1"/>
<rect x="332.1" y="344.3" width="22.8" height="12" fill="#fff"/>
<text x="343.5" y="353.7" font-size="12" fill="#333" text-anchor="middle">Nov</text>
<line x1="343.5" y1="357.8" x2="343.5" y2="361" stroke="#222" stroke-width="1"/>
<rect x="461.0" y="344.3" width="23.0" height="12" fill="#fff"/>
<text x="472.5" y="353.7" font-size="12" fill="#333" text-anchor="middle">Dez</text>
<line x1="472.5" y1="357.8" x2="472.5" y2="361" stroke="#222" stroke-width="1"/>
<rect x="574.4" y="344.3" width="40.2" height="12" fill="#fff"/>
<text x="594.5" y="353.7" font-size="12" fill="#333" text-anchor="middle">Jan '21</text>
<line x1="594.5" y1="357.8" x2="594.5" y2="361" stroke="#222" stroke-width="1"/>
<line x1="816" y1="24.5" x2="820" y2="24.5" stroke="#555" stroke-width="1"/>
<text x="826.5" y="27.0" font-size="12" fill="#444">0,225</text>
<line x1="816" y1="66.5" x2="820" y2="66.5" stroke="#555" stroke-width="1"/>
<text x="826.5" y="69.0" font-size="12" fill="#444">0,200</text>
<line x1="816" y1="108.5" x2="820" y2="108.5" stroke="#555" stroke-width="1"/>
<text x="826.5" y="111.0" font-size="12" fill="#444">0,175</text>
<line x1="816" y1="149.5" x2="820" y2="149.5" stroke="#555" stroke-width="1"/>
<text x="826.5" y="152.0" font-size="12" fill="#444">0,150</text>
<line x1="816" y1="191.5" x2="820" y2="191.5" stroke="#555" stroke-width="1"/>
<text x="826.5" y="194.0" font-size="12" fill="#444">0,125</text>
<line x1="816" y1="233.5" x2="820" y2="233.5" stroke="#555" stroke-width="1"/>
<text x="826.5" y="236.0" font-size="12" fill="#444">0,100</text>
<line x1="816" y1="275.5" x2="820" y2="275.5" stroke="#555" stroke-width="1"/>
<text x="826.5" y="278.0" font-size="12" fill="#444">0,075</text>
<line x1="816" y1="317.5" x2="820" y2="317.5" stroke="#555" stroke-width="1"/>
<text x="826.5" y="320.0" font-size="12" fill="#444">0,050</text>
<line x1="816" y1="359.5" x2="820" y2="359.5" stroke="#555" stroke-width="1"/>
<text x="826.5" y="362.0" font-size="12" fill="#444">0,025</text>
<polygon points="815.3,91.3 823.3,82 866,82 866,100.7 823.3,100.7" fill="#66c23a"/>
<text x="826.5" y="95" font-size="12" fill="#111">0,185</text>
<rect x="0" y="361" width="866" height="3" fill="#d9d9d9"/>
<rect x="3.8" y="361" width="10.7" height="3" fill="#fff"/>
<rect x="0" y="461" width="866" height="3" fill="#d9d9d9"/>
<defs><clipPath id="sstc"><rect x="0" y="364" width="815" height="97"/></clipPath><clipPath id="above80"><rect x="0" y="360" width="815" height="25.5"/></clipPath><clipPath id="below20"><rect x="0" y="439.4" width="815" height="22"/></clipPath><clipPath id="macdc"><rect x="0" y="464.5" width="815" height="85"/></clipPath></defs>
<g clip-path="url(#above80)"><polygon points="0,385.5 0.0,376.0 5.5,368.4 10.0,368.4 14.0,375.0 21.0,385.0 25.8,396.3 31.6,405.0 38.3,417.4 44.0,427.0 50.1,429.8 56.4,422.8 63.1,423.1 69.3,411.7 75.6,431.2 81.3,431.2 87.0,445.1 93.7,448.0 103.3,451.8 110.0,452.8 117.7,454.1 124.4,449.5 132.0,449.0 137.7,447.0 145.4,446.1 147.7,444.2 154.3,442.3 161.0,444.2 166.8,446.5 172.1,427.0 179.2,427.0 185.5,419.7 191.3,428.3 197.4,416.4 204.1,405.9 209.8,393.5 216.5,397.9 222.3,404.0 228.0,420.3 233.7,420.3 240.4,416.4 247.1,410.7 253.8,406.9 259.6,405.0 264.4,396.3 271.0,399.8 276.8,408.8 280.0,416.4 282.9,423.1 288.6,427.0 301.0,427.0 306.8,423.1 313.5,421.6 319.2,426.6 325.9,438.4 331.7,451.8 337.4,456.0 345.0,453.7 350.8,449.9 356.5,443.6 364.2,429.8 373.7,412.6 380.4,400.2 386.2,386.8 391.9,381.4 398.2,394.1 404.4,391.6 411.6,390.6 416.8,377.6 423.5,382.6 426.7,383.9 432.4,385.3 439.1,382.0 446.8,377.2 459.2,375.3 468.8,376.8 473.6,381.0 479.3,391.6 490.8,403.0 496.5,403.0 504.2,398.3 514.1,391.6 521.4,401.1 532.9,415.1 538.6,416.4 545.3,420.3 551.0,418.4 555.8,421.2 563.8,426.0 569.6,433.7 576.3,427.0 583.0,419.3 588.7,407.8 594.4,402.1 605.9,386.4 611.7,387.7 619.3,389.7 629.8,391.6 642.3,400.2 650.9,405.0 661.4,411.3 668.1,406.9 673.8,399.2 679.6,397.3 685.3,405.0 692.0,414.5 697.7,419.7 697.7,385.5" fill="#8fd66a" fill-opacity="0.85"/></g>
<g clip-path="url(#below20)"><polygon points="0,439.4 0.0,376.0 5.5,368.4 10.0,368.4 14.0,375.0 21.0,385.0 25.8,396.3 31.6,405.0 38.3,417.4 44.0,427.0 50.1,429.8 56.4,422.8 63.1,423.1 69.3,411.7 75.6,431.2 81.3,431.2 87.0,445.1 93.7,448.0 103.3,451.8 110.0,452.8 117.7,454.1 124.4,449.5 132.0,449.0 137.7,447.0 145.4,446.1 147.7,444.2 154.3,442.3 161.0,444.2 166.8,446.5 172.1,427.0 179.2,427.0 185.5,419.7 191.3,428.3 197.4,416.4 204.1,405.9 209.8,393.5 216.5,397.9 222.3,404.0 228.0,420.3 233.7,420.3 240.4,416.4 247.1,410.7 253.8,406.9 259.6,405.0 264.4,396.3 271.0,399.8 276.8,408.8 280.0,416.4 282.9,423.1 288.6,427.0 301.0,427.0 306.8,423.1 313.5,421.6 319.2,426.6 325.9,438.4 331.7,451.8 337.4,456.0 345.0,453.7 350.8,449.9 356.5,443.6 364.2,429.8 373.7,412.6 380.4,400.2 386.2,386.8 391.9,381.4 398.2,394.1 404.4,391.6 411.6,390.6 416.8,377.6 423.5,382.6 426.7,383.9 432.4,385.3 439.1,382.0 446.8,377.2 459.2,375.3 468.8,376.8 473.6,381.0 479.3,391.6 490.8,403.0 496.5,403.0 504.2,398.3 514.1,391.6 521.4,401.1 532.9,415.1 538.6,416.4 545.3,420.3 551.0,418.4 555.8,421.2 563.8,426.0 569.6,433.7 576.3,427.0 583.0,419.3 588.7,407.8 594.4,402.1 605.9,386.4 611.7,387.7 619.3,389.7 629.8,391.6 642.3,400.2 650.9,405.0 661.4,411.3 668.1,406.9 673.8,399.2 679.6,397.3 685.3,405.0 692.0,414.5 697.7,419.7 697.7,439.4" fill="#f08080" fill-opacity="0.95"/></g>
<g clip-path="url(#sstc)"><polyline points="0.0,371.0 10.0,372.0 20.0,378.0 28.7,383.3 38.3,397.3 50.7,415.5 59.3,422.2 67.0,424.1 73.7,423.5 81.3,424.7 91.8,432.7 99.5,442.3 109.0,449.0 118.6,451.4 130.1,451.4 140.0,449.9 149.6,447.0 159.1,445.1 166.8,445.7 172.5,441.3 180.2,437.5 185.9,432.7 191.7,429.8 197.4,424.1 204.1,420.3 209.8,413.6 215.6,409.7 222.3,403.6 228.0,405.0 235.7,408.8 244.3,413.6 252.9,415.5 259.6,412.6 266.3,406.9 275.8,403.0 280.0,405.0 287.7,410.7 295.3,417.0 303.0,423.5 308.7,425.0 318.3,426.0 325.9,429.8 335.5,437.5 345.0,447.0 350.8,449.9 356.5,451.4 364.2,447.0 373.7,434.6 383.3,417.4 392.9,400.2 402.4,392.5 413.9,388.3 421.6,387.2 431.5,385.3 446.8,382.6 458.3,380.1 471.7,377.2 485.0,384.9 494.6,394.4 502.3,399.2 511.8,399.2 525.2,398.3 532.9,401.7 544.4,411.3 553.9,417.0 564.8,421.2 571.5,424.7 582.0,425.4 588.7,422.2 594.4,418.4 604.0,406.9 612.6,395.4 621.2,390.6 629.8,388.7 640.4,392.5 653.7,399.2 663.3,405.0 671.0,405.9 680.5,404.4 690.1,405.0 697.7,406.9" fill="none" stroke="#5b8a4a" stroke-width="2" stroke-linejoin="round"/>
<polyline points="0.0,376.0 5.5,368.4 10.0,368.4 14.0,375.0 21.0,385.0 25.8,396.3 31.6,405.0 38.3,417.4 44.0,427.0 50.1,429.8 56.4,422.8 63.1,423.1 69.3,411.7 75.6,431.2 81.3,431.2 87.0,445.1 93.7,448.0 103.3,451.8 110.0,452.8 117.7,454.1 124.4,449.5 132.0,449.0 137.7,447.0 145.4,446.1 147.7,444.2 154.3,442.3 161.0,444.2 166.8,446.5 172.1,427.0 179.2,427.0 185.5,419.7 191.3,428.3 197.4,416.4 204.1,405.9 209.8,393.5 216.5,397.9 222.3,404.0 228.0,420.3 233.7,420.3 240.4,416.4 247.1,410.7 253.8,406.9 259.6,405.0 264.4,396.3 271.0,399.8 276.8,408.8 280.0,416.4 282.9,423.1 288.6,427.0 301.0,427.0 306.8,423.1 313.5,421.6 319.2,426.6 325.9,438.4 331.7,451.8 337.4,456.0 345.0,453.7 350.8,449.9 356.5,443.6 364.2,429.8 373.7,412.6 380.4,400.2 386.2,386.8 391.9,381.4 398.2,394.1 404.4,391.6 411.6,390.6 416.8,377.6 423.5,382.6 426.7,383.9 432.4,385.3 439.1,382.0 446.8,377.2 459.2,375.3 468.8,376.8 473.6,381.0 479.3,391.6 490.8,403.0 496.5,403.0 504.2,398.3 514.1,391.6 521.4,401.1 532.9,415.1 538.6,416.4 545.3,420.3 551.0,418.4 555.8,421.2 563.8,426.0 569.6,433.7 576.3,427.0 583.0,419.3 588.7,407.8 594.4,402.1 605.9,386.4 611.7,387.7 619.3,389.7 629.8,391.6 642.3,400.2 650.9,405.0 661.4,411.3 668.1,406.9 673.8,399.2 679.6,397.3 685.3,405.0 692.0,414.5 697.7,419.7" fill="none" stroke="#85488a" stroke-width="2" stroke-linejoin="round"/></g>
<rect x="0" y="368.8" width="167" height="15.6" fill="#fff" fill-opacity="0.86"/>
<text x="5.2" y="380.9" font-size="11" fill="#6e4d69" textLength="18.8" lengthAdjust="spacingAndGlyphs">SST</text>
<rect x="109" y="383" width="10.5" height="3" fill="#d8d8d8"/>
<text x="0" y="276.5" font-size="6" fill="#a04040">T</text>
<line x1="816" y1="368.4" x2="820" y2="368.4" stroke="#555" stroke-width="1"/>
<text x="826.5" y="370.6" font-size="12" fill="#444">100,00</text>
<line x1="816" y1="412.2" x2="820" y2="412.2" stroke="#555" stroke-width="1"/>
<text x="826.5" y="415.7" font-size="12" fill="#444">50,00</text>
<line x1="816" y1="456.3" x2="820" y2="456.3" stroke="#555" stroke-width="1"/>
<text x="826.5" y="459.2" font-size="12" fill="#444">0,00</text>
<g clip-path="url(#macdc)">
<rect x="-0.3" y="535.7" width="4" height="1.4" fill="#d4e2f4" stroke="#9db2d2" stroke-width="0.9"/>
<rect x="4.9" y="530.5" width="4" height="6.0" fill="#d4e2f4" stroke="#9db2d2" stroke-width="0.9"/>
<rect x="11.0" y="535.2" width="4" height="1.4" fill="#d4e2f4" stroke="#9db2d2" stroke-width="0.9"/>
<rect x="17.0" y="535.2" width="4" height="1.4" fill="#d4e2f4" stroke="#9db2d2" stroke-width="0.9"/>
<rect x="23.1" y="536.5" width="4" height="1.4" fill="#d4e2f4" stroke="#9db2d2" stroke-width="0.9"/>
<rect x="29.2" y="536.5" width="4" height="5.3" fill="#d4e2f4" stroke="#9db2d2" stroke-width="0.9"/>
<rect x="35.2" y="536.5" width="4" height="3.5" fill="#d4e2f4" stroke="#9db2d2" stroke-width="0.9"/>
<rect x="41.3" y="536.5" width="4" height="7.0" fill="#d4e2f4" stroke="#9db2d2" stroke-width="0.9"/>
<rect x="47.4" y="536.5" width="4" height="3.5" fill="#d4e2f4" stroke="#9db2d2" stroke-width="0.9"/>
<rect x="53.5" y="536.5" width="4" height="1.4" fill="#d4e2f4" stroke="#9db2d2" stroke-width="0.9"/>
<rect x="59.5" y="536.5" width="4" height="2.2" fill="#d4e2f4" stroke="#9db2d2" stroke-width="0.9"/>
<rect x="65.5" y="536.0" width="4" height="1.4" fill="#d4e2f4" stroke="#9db2d2" stroke-width="0.9"/>
<rect x="71.6" y="536.5" width="4" height="1.4" fill="#d4e2f4" stroke="#9db2d2" stroke-width="0.9"/>
<rect x="77.6" y="536.5" width="4" height="1.4" fill="#d4e2f4" stroke="#9db2d2" stroke-width="0.9"/>
<rect x="83.6" y="536.5" width="4" height="1.4" fill="#d4e2f4" stroke="#9db2d2" stroke-width="0.9"/>
<rect x="89.6" y="536.5" width="4" height="1.4" fill="#d4e2f4" stroke="#9db2d2" stroke-width="0.9"/>
<rect x="95.6" y="536.5" width="4" height="1.4" fill="#d4e2f4" stroke="#9db2d2" stroke-width="0.9"/>
<rect x="101.6" y="536.5" width="4" height="1.4" fill="#d4e2f4" stroke="#9db2d2" stroke-width="0.9"/>
<rect x="107.6" y="536.5" width="4" height="1.4" fill="#d4e2f4" stroke="#9db2d2" stroke-width="0.9"/>
<rect x="113.6" y="536.5" width="4" height="1.4" fill="#d4e2f4" stroke="#9db2d2" stroke-width="0.9"/>
<rect x="119.6" y="536.5" width="4" height="1.4" fill="#d4e2f4" stroke="#9db2d2" stroke-width="0.9"/>
<rect x="125.6" y="536.5" width="4" height="1.4" fill="#d4e2f4" stroke="#9db2d2" stroke-width="0.9"/>
<rect x="131.6" y="536.5" width="4" height="1.4" fill="#d4e2f4" stroke="#9db2d2" stroke-width="0.9"/>
<rect x="139.2" y="535.2" width="4" height="1.4" fill="#d4e2f4" stroke="#9db2d2" stroke-width="0.9"/>
<rect x="145.8" y="535.7" width="4" height="1.4" fill="#d4e2f4" stroke="#9db2d2" stroke-width="0.9"/>
<rect x="151.9" y="534.8" width="4" height="1.7" fill="#d4e2f4" stroke="#9db2d2" stroke-width="0.9"/>
<rect x="157.4" y="534.8" width="4" height="1.7" fill="#d4e2f4" stroke="#9db2d2" stroke-width="0.9"/>
<rect x="163.5" y="536.5" width="4" height="1.4" fill="#d4e2f4" stroke="#9db2d2" stroke-width="0.9"/>
<rect x="169.2" y="529.6" width="4" height="6.9" fill="#d4e2f4" stroke="#9db2d2" stroke-width="0.9"/>
<rect x="175.2" y="535.0" width="4" height="1.5" fill="#d4e2f4" stroke="#9db2d2" stroke-width="0.9"/>
<rect x="181.2" y="536.0" width="4" height="1.4" fill="#d4e2f4" stroke="#9db2d2" stroke-width="0.9"/>
<rect x="187.5" y="535.0" width="4" height="1.5" fill="#d4e2f4" stroke="#9db2d2" stroke-width="0.9"/>
<rect x="194.3" y="527.6" width="4" height="8.9" fill="#d4e2f4" stroke="#9db2d2" stroke-width="0.9"/>
<rect x="200.4" y="527.0" width="4" height="9.5" fill="#d4e2f4" stroke="#9db2d2" stroke-width="0.9"/>
<rect x="206.4" y="522.4" width="4" height="14.1" fill="#d4e2f4" stroke="#9db2d2" stroke-width="0.9"/>
<rect x="212.5" y="532.2" width="4" height="4.3" fill="#d4e2f4" stroke="#9db2d2" stroke-width="0.9"/>
<rect x="218.5" y="536.5" width="4" height="1.4" fill="#d4e2f4" stroke="#9db2d2" stroke-width="0.9"/>
<rect x="224.6" y="536.5" width="4" height="3.2" fill="#d4e2f4" stroke="#9db2d2" stroke-width="0.9"/>
<rect x="230.7" y="536.5" width="4" height="3.2" fill="#d4e2f4" stroke="#9db2d2" stroke-width="0.9"/>
<rect x="236.7" y="536.5" width="4" height="1.4" fill="#d4e2f4" stroke="#9db2d2" stroke-width="0.9"/>
<rect x="242.7" y="536.5" width="4" height="1.4" fill="#d4e2f4" stroke="#9db2d2" stroke-width="0.9"/>
<rect x="248.7" y="536.5" width="4" height="1.4" fill="#d4e2f4" stroke="#9db2d2" stroke-width="0.9"/>
<rect x="255.8" y="533.5" width="4" height="3.0" fill="#d4e2f4" stroke="#9db2d2" stroke-width="0.9"/>
<rect x="261.3" y="523.6" width="4" height="12.9" fill="#d4e2f4" stroke="#9db2d2" stroke-width="0.9"/>
<rect x="267.6" y="531.0" width="4" height="5.5" fill="#d4e2f4" stroke="#9db2d2" stroke-width="0.9"/>
<rect x="273.5" y="536.0" width="4" height="1.4" fill="#d4e2f4" stroke="#9db2d2" stroke-width="0.9"/>
<rect x="279.2" y="536.5" width="4" height="1.8" fill="#d4e2f4" stroke="#9db2d2" stroke-width="0.9"/>
<rect x="284.9" y="536.5" width="4" height="2.4" fill="#d4e2f4" stroke="#9db2d2" stroke-width="0.9"/>
<rect x="291.9" y="536.5" width="4" height="2.4" fill="#d4e2f4" stroke="#9db2d2" stroke-width="0.9"/>
<rect x="298.4" y="536.5" width="4" height="2.4" fill="#d4e2f4" stroke="#9db2d2" stroke-width="0.9"/>
<rect x="304.8" y="536.5" width="4" height="1.4" fill="#d4e2f4" stroke="#9db2d2" stroke-width="0.9"/>
<rect x="310.6" y="536.5" width="4" height="1.4" fill="#d4e2f4" stroke="#9db2d2" stroke-width="0.9"/>
<rect x="316.5" y="536.5" width="4" height="5.9" fill="#d4e2f4" stroke="#9db2d2" stroke-width="0.9"/>
<rect x="322.7" y="536.5" width="4" height="7.6" fill="#d4e2f4" stroke="#9db2d2" stroke-width="0.9"/>
<rect x="328.2" y="536.5" width="4" height="7.6" fill="#d4e2f4" stroke="#9db2d2" stroke-width="0.9"/>
<rect x="334.3" y="536.5" width="4" height="11.1" fill="#d4e2f4" stroke="#9db2d2" stroke-width="0.9"/>
<rect x="340.4" y="536.5" width="4" height="9.3" fill="#d4e2f4" stroke="#9db2d2" stroke-width="0.9"/>
<rect x="346.4" y="536.5" width="4" height="6.7" fill="#d4e2f4" stroke="#9db2d2" stroke-width="0.9"/>
<rect x="352.5" y="536.5" width="4" height="3.3" fill="#d4e2f4" stroke="#9db2d2" stroke-width="0.9"/>
<rect x="359.4" y="532.3" width="4" height="4.2" fill="#d4e2f4" stroke="#9db2d2" stroke-width="0.9"/>
<rect x="365.5" y="532.0" width="4" height="4.5" fill="#d4e2f4" stroke="#9db2d2" stroke-width="0.9"/>
<rect x="371.5" y="528.5" width="4" height="8.0" fill="#d4e2f4" stroke="#9db2d2" stroke-width="0.9"/>
<rect x="377.6" y="523.3" width="4" height="13.2" fill="#d4e2f4" stroke="#9db2d2" stroke-width="0.9"/>
<rect x="383.3" y="520.2" width="4" height="16.3" fill="#d4e2f4" stroke="#9db2d2" stroke-width="0.9"/>
<rect x="389.7" y="523.3" width="4" height="13.2" fill="#d4e2f4" stroke="#9db2d2" stroke-width="0.9"/>
<rect x="395.8" y="536.3" width="4" height="1.4" fill="#d4e2f4" stroke="#9db2d2" stroke-width="0.9"/>
<rect x="401.9" y="530.2" width="4" height="6.3" fill="#d4e2f4" stroke="#9db2d2" stroke-width="0.9"/>
<rect x="408.8" y="530.2" width="4" height="6.3" fill="#d4e2f4" stroke="#9db2d2" stroke-width="0.9"/>
<rect x="414.8" y="528.8" width="4" height="7.7" fill="#d4e2f4" stroke="#9db2d2" stroke-width="0.9"/>
<rect x="420.1" y="528.7" width="4" height="7.8" fill="#d4e2f4" stroke="#9db2d2" stroke-width="0.9"/>
<rect x="426.3" y="530.4" width="4" height="6.1" fill="#d4e2f4" stroke="#9db2d2" stroke-width="0.9"/>
<rect x="432.2" y="517.4" width="4" height="19.1" fill="#d4e2f4" stroke="#9db2d2" stroke-width="0.9"/>
<rect x="438.4" y="510.5" width="4" height="26.0" fill="#d4e2f4" stroke="#9db2d2" stroke-width="0.9"/>
<rect x="444.3" y="511.4" width="4" height="25.1" fill="#d4e2f4" stroke="#9db2d2" stroke-width="0.9"/>
<rect x="450.4" y="501.5" width="4" height="35.0" fill="#d4e2f4" stroke="#9db2d2" stroke-width="0.9"/>
<rect x="456.5" y="499.2" width="4" height="37.3" fill="#d4e2f4" stroke="#9db2d2" stroke-width="0.9"/>
<rect x="462.7" y="511.4" width="4" height="25.1" fill="#d4e2f4" stroke="#9db2d2" stroke-width="0.9"/>
<rect x="469.1" y="527.5" width="4" height="9.0" fill="#d4e2f4" stroke="#9db2d2" stroke-width="0.9"/>
<rect x="475.5" y="536.5" width="4" height="10.4" fill="#d4e2f4" stroke="#9db2d2" stroke-width="0.9"/>
<rect x="481.7" y="536.5" width="4" height="10.4" fill="#d4e2f4" stroke="#9db2d2" stroke-width="0.9"/>
<rect x="487.3" y="536.5" width="4" height="10.4" fill="#d4e2f4" stroke="#9db2d2" stroke-width="0.9"/>
<rect x="493.4" y="536.5" width="4" height="10.4" fill="#d4e2f4" stroke="#9db2d2" stroke-width="0.9"/>
<rect x="499.4" y="536.5" width="4" height="9.0" fill="#d4e2f4" stroke="#9db2d2" stroke-width="0.9"/>
<rect x="505.5" y="536.5" width="4" height="4.8" fill="#d4e2f4" stroke="#9db2d2" stroke-width="0.9"/>
<rect x="511.5" y="536.5" width="4" height="6.6" fill="#d4e2f4" stroke="#9db2d2" stroke-width="0.9"/>
<rect x="517.6" y="536.5" width="4" height="10.8" fill="#d4e2f4" stroke="#9db2d2" stroke-width="0.9"/>
<rect x="524.1" y="536.5" width="4" height="13.5" fill="#d4e2f4" stroke="#9db2d2" stroke-width="0.9"/>
<rect x="530.4" y="536.5" width="4" height="11.5" fill="#d4e2f4" stroke="#9db2d2" stroke-width="0.9"/>
<rect x="536.3" y="536.5" width="4" height="10.8" fill="#d4e2f4" stroke="#9db2d2" stroke-width="0.9"/>
<rect x="542.5" y="536.5" width="4" height="13.5" fill="#d4e2f4" stroke="#9db2d2" stroke-width="0.9"/>
<rect x="548.4" y="536.5" width="4" height="10.8" fill="#d4e2f4" stroke="#9db2d2" stroke-width="0.9"/>
<rect x="554.6" y="536.5" width="4" height="13.5" fill="#d4e2f4" stroke="#9db2d2" stroke-width="0.9"/>
<rect x="560.6" y="536.5" width="4" height="13.5" fill="#d4e2f4" stroke="#9db2d2" stroke-width="0.9"/>
<rect x="566.7" y="536.5" width="4" height="13.5" fill="#d4e2f4" stroke="#9db2d2" stroke-width="0.9"/>
<rect x="573.0" y="536.5" width="4" height="4.8" fill="#d4e2f4" stroke="#9db2d2" stroke-width="0.9"/>
<rect x="578.8" y="536.5" width="4" height="1.4" fill="#d4e2f4" stroke="#9db2d2" stroke-width="0.9"/>
<rect x="585.0" y="536.5" width="4" height="1.4" fill="#d4e2f4" stroke="#9db2d2" stroke-width="0.9"/>
<rect x="591.3" y="525.7" width="4" height="10.8" fill="#d4e2f4" stroke="#9db2d2" stroke-width="0.9"/>
<rect x="597.5" y="514.3" width="4" height="22.2" fill="#d4e2f4" stroke="#9db2d2" stroke-width="0.9"/>
<rect x="603.4" y="504.4" width="4" height="32.1" fill="#d4e2f4" stroke="#9db2d2" stroke-width="0.9"/>
<rect x="609.4" y="503.2" width="4" height="33.3" fill="#d4e2f4" stroke="#9db2d2" stroke-width="0.9"/>
<rect x="615.5" y="506.2" width="4" height="30.3" fill="#d4e2f4" stroke="#9db2d2" stroke-width="0.9"/>
<rect x="621.2" y="511.9" width="4" height="24.6" fill="#d4e2f4" stroke="#9db2d2" stroke-width="0.9"/>
<rect x="627.3" y="527.5" width="4" height="9.0" fill="#d4e2f4" stroke="#9db2d2" stroke-width="0.9"/>
<rect x="633.9" y="536.5" width="4" height="2.6" fill="#d4e2f4" stroke="#9db2d2" stroke-width="0.9"/>
<rect x="640.3" y="536.5" width="4" height="10.4" fill="#d4e2f4" stroke="#9db2d2" stroke-width="0.9"/>
<rect x="646.3" y="536.5" width="4" height="10.4" fill="#d4e2f4" stroke="#9db2d2" stroke-width="0.9"/>
<rect x="652.4" y="536.5" width="4" height="10.4" fill="#d4e2f4" stroke="#9db2d2" stroke-width="0.9"/>
<rect x="658.5" y="536.5" width="4" height="10.4" fill="#d4e2f4" stroke="#9db2d2" stroke-width="0.9"/>
<rect x="664.5" y="536.5" width="4" height="5.5" fill="#d4e2f4" stroke="#9db2d2" stroke-width="0.9"/>
<rect x="670.2" y="532.2" width="4" height="4.3" fill="#d4e2f4" stroke="#9db2d2" stroke-width="0.9"/>
<rect x="676.7" y="536.5" width="4" height="1.4" fill="#d4e2f4" stroke="#9db2d2" stroke-width="0.9"/>
<rect x="682.4" y="536.5" width="4" height="6.9" fill="#d4e2f4" stroke="#9db2d2" stroke-width="0.9"/>
<rect x="688.3" y="536.5" width="4" height="3.5" fill="#d4e2f4" stroke="#9db2d2" stroke-width="0.9"/>
<rect x="694.8" y="536.5" width="4" height="7.8" fill="#d4e2f4" stroke="#9db2d2" stroke-width="0.9"/>
<polyline points="0.0,533.5 10.4,531.7 22.5,531.7 34.6,533.1 52.0,535.2 69.3,536.2 86.6,537.4 103.9,538.7 121.3,539.7 140.0,539.2 157.3,537.4 174.6,536.9 192.0,535.7 209.3,532.8 218.0,531.0 235.3,532.2 252.6,532.2 261.3,530.5 271.6,528.8 280.0,529.9 293.9,530.2 314.6,531.6 332.0,534.6 345.8,538.0 358.0,538.0 368.3,536.3 383.9,532.0 390.9,530.2 401.3,529.4 418.6,526.4 428.7,525.2 437.3,520.5 446.0,514.8 454.6,507.9 465.0,502.2 472.0,501.5 478.9,503.2 489.3,507.9 503.1,513.1 510.1,513.6 523.9,517.1 541.3,521.8 560.0,526.1 569.5,530.4 580.8,530.4 588.6,531.3 603.3,523.5 615.4,515.7 625.8,510.2 632.8,509.1 646.6,512.2 662.2,519.2 681.3,519.5 697.7,521.2" fill="none" stroke="#62557a" stroke-width="2" stroke-linejoin="round"/>
<polyline points="0.0,528.8 7.8,526.5 13.9,530.5 19.9,528.3 26.0,533.1 32.0,539.2 38.1,539.2 43.3,540.9 50.2,542.6 56.3,535.2 62.4,537.4 69.3,533.5 74.5,538.0 83.1,539.2 93.5,542.1 103.9,541.8 117.8,542.1 124.7,540.0 138.6,538.7 148.7,536.6 157.3,536.2 166.0,537.4 172.0,530.5 178.1,533.5 185.0,535.2 190.2,533.5 197.2,527.0 203.2,525.8 209.6,517.5 216.2,526.2 222.3,530.5 228.3,535.2 237.0,534.0 247.4,532.2 257.8,530.5 264.4,517.9 273.4,527.0 282.0,531.4 286.9,532.8 293.9,534.0 300.8,534.0 307.7,531.6 313.8,531.6 319.8,538.0 325.9,541.0 332.0,543.2 337.2,547.6 342.4,546.2 349.3,545.5 356.2,540.6 363.1,532.8 370.1,530.2 374.4,527.1 380.5,519.5 386.5,515.5 392.6,516.4 398.7,528.8 404.7,521.9 411.6,521.2 420.0,518.3 424.3,517.1 428.7,518.3 434.7,505.3 440.8,492.8 447.7,490.1 453.8,475.9 459.5,468.6 466.8,477.6 472.0,490.6 478.9,517.4 485.0,524.4 490.2,531.3 496.2,533.0 502.3,520.9 508.3,518.3 514.4,521.8 520.5,527.5 527.4,530.1 537.8,531.3 544.7,533.9 553.4,537.4 560.0,540.8 568.7,546.9 575.6,535.6 582.5,532.2 588.6,531.3 594.6,517.4 600.7,503.6 606.8,490.6 612.8,484.2 618.9,483.7 625.0,487.1 630.2,499.2 636.2,512.2 643.1,520.9 650.1,531.3 655.3,536.5 661.3,539.9 667.4,526.1 673.5,514.3 679.5,520.9 684.7,527.5 691.6,524.4 697.7,528.7" fill="none" stroke="#3198bf" stroke-width="2.1" stroke-linejoin="round"/>
</g>
<rect x="176.2" y="467.6" width="17.2" height="17.6" fill="#fff" fill-opacity="0.6"/>
<rect x="0" y="467.6" width="19" height="22.6" fill="#fff"/>
<text x="5.2" y="480.9" font-size="11" fill="#3a95bd">MA</text>
<rect x="19" y="467.6" width="157.2" height="22.6" fill="#fff"/>
<text x="176.6" y="480.7" font-size="10" fill="#98a8c0">03</text>
<line x1="816" y1="466.5" x2="820" y2="466.5" stroke="#555" stroke-width="1"/>
<text x="826.5" y="469" font-size="12" fill="#444">0,025</text>
<line x1="816" y1="535.5" x2="820" y2="535.5" stroke="#555" stroke-width="1"/>
<text x="826.5" y="539.5" font-size="12" fill="#444">0,000</text>
<rect x="816" y="361" width="50" height="3" fill="#d9d9d9"/>
<rect x="816" y="461" width="50" height="3" fill="#d9d9d9"/>
</svg></body></html>
